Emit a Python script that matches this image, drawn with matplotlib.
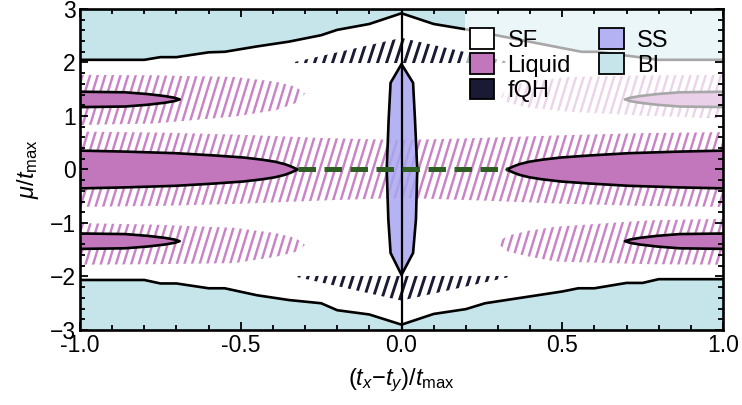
import numpy as np
import matplotlib
matplotlib.use("Agg")
import matplotlib.pyplot as plt
from matplotlib.patches import Polygon, Patch, Rectangle
from matplotlib.collections import LineCollection
from matplotlib.ticker import MultipleLocator, FormatStrFormatter

plt.rcParams["font.family"] = ["Liberation Sans", "DejaVu Sans"]
plt.rcParams["mathtext.fontset"] = "custom"
plt.rcParams["mathtext.rm"] = "Liberation Sans"
plt.rcParams["mathtext.it"] = "Liberation Sans:italic"
plt.rcParams["mathtext.bf"] = "Liberation Sans:bold"

# ---------------- phase-diagram data ----------------
# band insulator (BI) boundaries
bi_top_x = [-1.0, -0.80, -0.75, -0.70, -0.60, -0.55, -0.45, -0.35, -0.25, -0.20,
            -0.10, 0.0, 0.10, 0.20, 0.56, 0.61, 0.80, 1.0]
bi_top_mu = [2.05, 2.05, 2.10, 2.10, 2.19, 2.20, 2.30, 2.39, 2.51, 2.61,
             2.72, 2.92, 2.72, 2.62, 2.20, 2.20, 2.05, 2.05]
bi_bot_x = [-1.0, -0.80, -0.75, -0.70, -0.60, -0.55, -0.45, -0.35, -0.25, -0.20,
            -0.10, 0.0, 0.10, 0.20, 0.26, 0.50, 0.55, 0.60, 0.70, 0.75, 0.80, 1.0]
bi_bot_mu = [-2.065, -2.065, -2.13, -2.13, -2.22, -2.22, -2.35, -2.44, -2.50, -2.63,
             -2.71, -2.90, -2.70, -2.61, -2.50, -2.28, -2.22, -2.22, -2.12, -2.12, -2.05, -2.05]

# central liquid lobes: half-height vs distance from the tip
lobe_tips = [-0.323, 0.327]
lobe_d = [0.0, 0.02, 0.04, 0.07, 0.11, 0.17, 0.26, 0.38, 0.54, 0.69]
lobe_h = [0.0, 0.055, 0.100, 0.145, 0.183, 0.225, 0.263, 0.305, 0.335, 0.355]

# small liquid lobes near mu = +-1.3
small_tips = [-0.69, 0.695]
small_centers = [1.31, -1.34]
small_d = [0.0, 0.016, 0.047, 0.10, 0.17, 0.32]
small_h = [0.0, 0.031, 0.063, 0.10, 0.133, 0.145]

# supersolid (SS) region
ss_x = [0.0, 0.036, 0.042, 0.049, 0.045, 0.036, 0.0, -0.034, -0.041, -0.046, -0.040, -0.034]
ss_mu = [1.97, 1.62, 0.93, 0.0, -0.93, -1.56, -1.97, -1.56, -0.93, 0.0, 0.93, 1.62]

# fractional quantum Hall (fQH) wedges
fqh_up_x = [-0.347, 0.0, 0.35]
fqh_up_mu = [1.99, 2.46, 1.99]
fqh_dn_x = [-0.34, 0.0, 0.35]
fqh_dn_mu = [-1.99, -2.45, -1.99]

# hatched (liquid-like) bands
band_mid_x = [-1.02, -0.75, -0.5, -0.25, 0.0, 0.25, 0.5, 0.75, 1.02]
band_mid_top = [0.71, 0.69, 0.65, 0.59, 0.55, 0.59, 0.64, 0.68, 0.70]
band_mid_bot = [-0.70, -0.68, -0.64, -0.58, -0.53, -0.58, -0.64, -0.68, -0.70]

band_ul_x = [-1.02, -0.77, -0.52, -0.39, -0.33, -0.30]
band_ul_top = [1.77, 1.76, 1.73, 1.64, 1.55, 1.42]
band_ul_bot = [0.83, 0.86, 0.99, 1.11, 1.24, 1.42]

band_ll_x = [-1.02, -0.77, -0.52, -0.39, -0.33, -0.30]
band_ll_top = [-1.00, -1.03, -1.09, -1.19, -1.28, -1.41]
band_ll_bot = [-1.78, -1.77, -1.75, -1.63, -1.54, -1.41]

band_ur_x = [1.02, 0.77, 0.52, 0.39, 0.33, 0.31]
band_ur_top = [1.77, 1.76, 1.73, 1.64, 1.55, 1.36]
band_ur_bot = [0.96, 1.00, 1.08, 1.16, 1.25, 1.36]

band_lr_x = [1.02, 0.77, 0.48, 0.39, 0.33, 0.296]
band_lr_top = [-0.92, -0.95, -1.07, -1.15, -1.24, -1.37]
band_lr_bot = [-1.78, -1.77, -1.72, -1.62, -1.53, -1.37]

# legend entries
phase_names = ["SF", "Liquid", "fQH", "SS", "BI"]

# ---------------- styling ----------------
C_BI = "#c6e5eb"
C_LIQ = "#c276bc"
C_HATCH = "#c983c6"
C_SS = "#a9a6f0"
C_FQH = "#1b1a34"
C_GREEN = "#2e5e22"
phase_colors = ["white", C_LIQ, C_FQH, "#b4b2f2", C_BI]

FIG_W, FIG_H = 742, 405
L, R, T, B = 80, 723, 9, 330
AX_W, AX_H = R - L, B - T

fig = plt.figure(figsize=(FIG_W / 100, FIG_H / 100), dpi=100)
ax = fig.add_axes([L / FIG_W, 1 - B / FIG_H, AX_W / FIG_W, AX_H / FIG_H])
ax.set_xlim(-1, 1)
ax.set_ylim(-3, 3)


def hatch(xs, ys, color, lw, period_px, angle_deg, zorder):
    poly = Polygon(np.column_stack([xs, ys]), closed=True, facecolor="none",
                   edgecolor="none", transform=ax.transData)
    ax.add_patch(poly)
    shift = AX_H / np.tan(np.radians(angle_deg))
    starts = np.arange(-shift - period_px, AX_W + period_px, period_px)
    segs = [[(s / AX_W, 0.0), ((s + shift) / AX_W, 1.0)] for s in starts]
    lc = LineCollection(segs, colors=color, linewidths=lw,
                        transform=ax.transAxes, zorder=zorder, capstyle="butt")
    ax.add_collection(lc, autolim=False)
    lc.set_clip_path(poly)


def band(xs, top, bot):
    px = list(xs) + list(xs[::-1])
    py = list(top) + list(bot[::-1])
    hatch(px, py, C_HATCH, 1.75, 7.6, 73, 1)


band(band_mid_x, band_mid_top, band_mid_bot)
band(band_ul_x, band_ul_top, band_ul_bot)
band(band_ll_x, band_ll_top, band_ll_bot)
band(band_ur_x, band_ur_top, band_ur_bot)
band(band_lr_x, band_lr_top, band_lr_bot)

# fQH wedges
hatch(fqh_up_x, fqh_up_mu, C_FQH, 2.1, 9.0, 72, 2)
hatch(fqh_dn_x, fqh_dn_mu, C_FQH, 2.1, 9.0, 72, 2)


def lobe(tip, center, d, h):
    sgn = -1 if tip < 0 else 1
    d = np.asarray(d)
    h = np.asarray(h)
    xs = tip + sgn * d
    px = np.concatenate([xs, xs[::-1]])
    py = np.concatenate([center + h, center - h[::-1]])
    ax.add_patch(Polygon(np.column_stack([px, py]), closed=True, facecolor=C_LIQ,
                         edgecolor="black", linewidth=1.9, zorder=4, joinstyle="round"))


for t in lobe_tips:
    lobe(t, 0.0, lobe_d, lobe_h)
for t in small_tips:
    for c in small_centers:
        lobe(t, c, small_d, small_h)

# SS lens
ax.add_patch(Polygon(np.column_stack([ss_x, ss_mu]), closed=True, facecolor=C_SS,
                     alpha=0.85, edgecolor="none", zorder=5))
ax.add_patch(Polygon(np.column_stack([ss_x, ss_mu]), closed=True, facecolor="none",
                     edgecolor="black", linewidth=1.9, zorder=6))

# BI regions
ax.fill_between(bi_top_x, bi_top_mu, 3.2, facecolor=C_BI, edgecolor="none", zorder=3)
ax.plot(bi_top_x, bi_top_mu, color="black", lw=1.9, zorder=7)
ax.fill_between(bi_bot_x, -3.2, bi_bot_mu, facecolor=C_BI, edgecolor="none", zorder=3)
ax.plot(bi_bot_x, bi_bot_mu, color="black", lw=1.9, zorder=7)

# x = 0 line and the dashed line between lobe tips
ax.axvline(0.0, color="black", lw=1.6, zorder=7)
ax.plot([lobe_tips[0], lobe_tips[1]], [0, 0], color=C_GREEN, lw=3.6,
        dashes=(3.5, 1.7), solid_capstyle="butt", dash_capstyle="butt", zorder=8)

# translucent backdrop for the legend
ax.add_patch(Rectangle((0.599, 0.664), 0.401, 0.336, transform=ax.transAxes,
                       facecolor="white", edgecolor="none", alpha=0.66, zorder=20))

handles = [Patch(facecolor=c, edgecolor="black", linewidth=1.3) for c in phase_colors]
leg = ax.legend(handles, phase_names, ncol=2, loc="upper left",
                bbox_to_anchor=(0.606, 0.940), frameon=False, fontsize=17,
                handlelength=1.05, handleheight=0.95, handletextpad=0.55,
                labelspacing=0.08, columnspacing=1.2, borderpad=0.0,
                borderaxespad=0.0)
leg.set_zorder(25)

# axes styling
for sp in ax.spines.values():
    sp.set_linewidth(1.9)
    sp.set_zorder(30)
ax.xaxis.set_zorder(30)
ax.yaxis.set_zorder(30)
ax.set_xticks([-1.0, -0.5, 0.0, 0.5, 1.0])
ax.xaxis.set_major_formatter(FormatStrFormatter("%.1f"))
ax.xaxis.set_minor_locator(MultipleLocator(0.1))
ax.yaxis.set_major_locator(MultipleLocator(1))
ax.yaxis.set_minor_locator(MultipleLocator(0.2))
ax.tick_params(which="both", direction="in", top=True, right=True,
               labelsize=16.5, width=1.3, pad=3, color="black")
ax.tick_params(which="major", length=6)
ax.tick_params(which="minor", length=3.5)
ax.set_xlim(-1, 1)
ax.set_ylim(-3, 3)

ax.set_xlabel(r"$(t_x{-}t_y)/t_{\mathrm{max}}$", fontsize=17, labelpad=7)
ax.set_ylabel(r"$\mu/t_{\mathrm{max}}$", fontsize=17, labelpad=6)

fig.savefig("out.png", dpi=100)
